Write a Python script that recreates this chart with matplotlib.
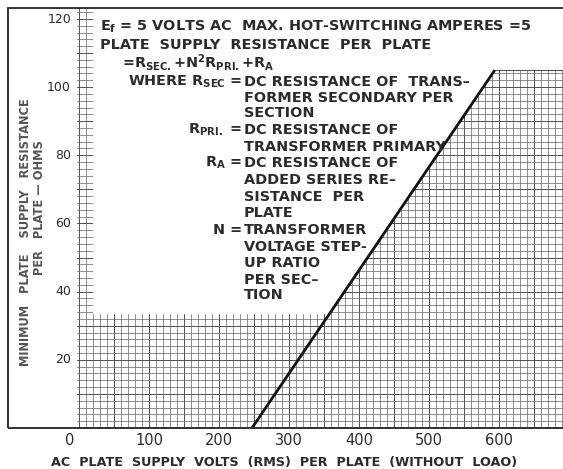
import numpy as np
import matplotlib
matplotlib.use('Agg')
import matplotlib.pyplot as plt
from matplotlib.patches import Rectangle, Polygon

plt.rcParams['font.family'] = ['DejaVu Sans']
plt.rcParams['font.weight'] = 'bold'
plt.rcParams['mathtext.fontset'] = 'custom'
plt.rcParams['mathtext.rm'] = 'DejaVu Sans:bold'
plt.rcParams['mathtext.default'] = 'rm'

# curve: minimum resistance vs. AC plate supply volts
volts = [247, 594, 691]
ohms = [0, 105, 105]

# white note panel (grid left blank there)
panel_left = 20
panel_bottom = 33.4

x_ticks = [0, 100, 200, 300, 400, 500, 600]
y_ticks = [20, 40, 60, 80, 100, 120]

W, H = 563, 469
ink = '#2b2b2b'

def fx(px):
    return px / W

def fy(py):
    return 1 - py / H

fig = plt.figure(figsize=(W / 100, H / 100), dpi=100)
ax = fig.add_axes([fx(77), fy(428), 1 - fx(77), (428 - 8) / H])
xmin, xmax = -3, 691.4
ymin, ymax = 0, 123.2
ax.set_xlim(xmin, xmax)
ax.set_ylim(ymin, ymax)

# graph paper
for gx in np.arange(0, xmax, 10):
    heavy = gx % 50 == 0
    ax.axvline(gx, color='#505050' if heavy else '#707070', lw=0.7 if heavy else 0.55, zorder=1)
for gy in np.arange(2, ymax, 2):
    heavy = gy % 10 == 0
    ax.axhline(gy, color='#505050' if heavy else '#707070', lw=0.7 if heavy else 0.55, zorder=1)

# blank out the note panel
x_cut = np.interp(panel_bottom, ohms[:2], volts[:2])
poly = [(panel_left, panel_bottom), (x_cut, panel_bottom), (volts[1], ohms[1]),
        (xmax + 5, ohms[2]), (xmax + 5, ymax + 5), (panel_left, ymax + 5)]
ax.add_patch(Polygon(poly, closed=True, facecolor='white', edgecolor='none', zorder=2))

ax.plot(volts[:2], ohms[:2], color='#111', lw=2.0, zorder=3, solid_capstyle='butt')
ax.plot(volts[1:], ohms[1:], color='#555', lw=0.8, zorder=3)

ax.set_xticks([])
ax.set_yticks([])
for s in ax.spines.values():
    s.set_visible(False)

# outer frame
fig.patches.append(Rectangle((fx(8), fy(428)), 1.2, (428 - 8) / H, transform=fig.transFigure,
                             fill=False, edgecolor='#333', lw=1.4))

# tick labels
for v in x_ticks:
    px = 79 + v * 0.70
    if v == 0:
        px = 70
    fig.text(fx(px), fy(440), str(v), ha='center', va='center', fontsize=10.5,
             fontweight='normal', color=ink)
for v in y_ticks:
    py = 428 - v * 3.408
    fig.text(fx(71), fy(py), str(v), ha='right', va='center', fontsize=9,
             fontweight='normal', color=ink)

fig.text(fx(284), fy(462), 'AC  PLATE  SUPPLY  VOLTS  (RMS)  PER  PLATE  (WITHOUT  LOAO)',
         ha='center', va='center', fontsize=9.2, color=ink)
fig.text(fx(26), fy(232), 'MINIMUM   PLATE    SUPPLY   RESISTANCE', rotation=90,
         ha='center', va='center', fontsize=8.3, color='#555')
fig.text(fx(39.5), fy(208), 'PER   PLATE \u2014 OHMS', rotation=90,
         ha='center', va='center', fontsize=8.3, color='#555')

# notes
fs = 10.4
fig.text(fx(100), fy(27), r'E$_f$ = 5 VOLTS AC  MAX. HOT-SWITCHING AMPERES =5',
         ha='left', va='center', fontsize=fs, color=ink)
fig.text(fx(100), fy(45), 'PLATE  SUPPLY  RESISTANCE  PER  PLATE',
         ha='left', va='center', fontsize=fs, color=ink)
fig.text(fx(122), fy(62), r'=R$_{SEC.}$+N$^2$R$_{PRI.}$+R$_A$',
         ha='left', va='center', fontsize=fs, color=ink)

col = 244
notes = [
    (82, r'WHERE R$_{SEC}$ =', 'DC RESISTANCE OF  TRANS\u2013'),
    (98, '', 'FORMER SECONDARY PER'),
    (113, '', 'SECTION'),
    (130, r'R$_{PRI.}$ =', 'DC RESISTANCE OF'),
    (147, '', 'TRANSFORMER PRIMARY'),
    (163, r'R$_A$ =', 'DC RESISTANCE OF'),
    (180, '', 'ADDED SERIES RE\u2013'),
    (197, '', 'SISTANCE  PER'),
    (213, '', 'PLATE'),
    (230, 'N =', 'TRANSFORMER'),
    (247, '', 'VOLTAGE STEP-'),
    (263, '', 'UP RATIO'),
    (280, '', 'PER SEC\u2013'),
    (295, '', 'TION'),
]
for py, lab, body in notes:
    if lab:
        fig.text(fx(col - 2), fy(py), lab, ha='right', va='center', fontsize=fs, color=ink)
    fig.text(fx(col), fy(py), body, ha='left', va='center', fontsize=fs, color=ink)

fig.savefig('out.png', dpi=100)
